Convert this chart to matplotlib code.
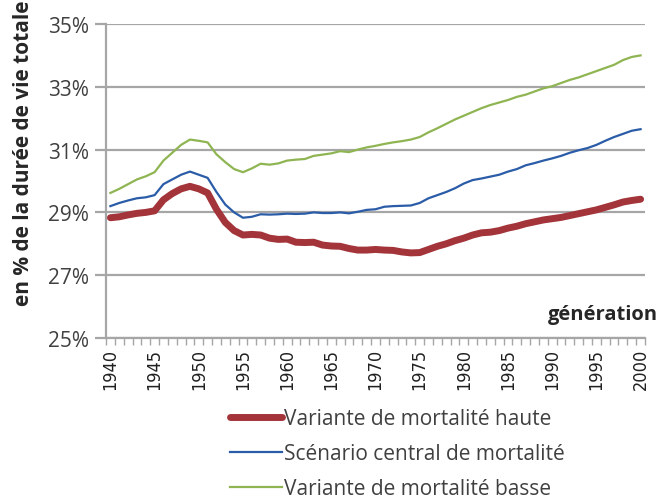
import numpy as np
import matplotlib.pyplot as plt

plt.rcParams['font.family'] = ['Open Sans', 'DejaVu Sans']

# generations 1940..2000, share of total lifetime spent in retirement (%)
years = list(range(1940, 2001))

haute = [28.83, 28.86, 28.92, 28.97, 29.00, 29.05, 29.40, 29.60, 29.75, 29.83,
         29.75, 29.62, 29.10, 28.68, 28.42, 28.28, 28.30, 28.28, 28.18, 28.14,
         28.15, 28.05, 28.04, 28.05, 27.96, 27.93, 27.92, 27.85, 27.80, 27.80,
         27.82, 27.80, 27.79, 27.74, 27.71, 27.72, 27.82, 27.92, 28.00, 28.10,
         28.18, 28.28, 28.35, 28.37, 28.42, 28.50, 28.56, 28.64, 28.70, 28.76,
         28.80, 28.84, 28.90, 28.96, 29.02, 29.08, 29.16, 29.24, 29.33, 29.38,
         29.42]

central = [29.20, 29.30, 29.38, 29.45, 29.48, 29.55, 29.90, 30.05, 30.20, 30.30,
           30.20, 30.10, 29.65, 29.25, 29.00, 28.83, 28.86, 28.94, 28.93, 28.94,
           28.96, 28.95, 28.96, 29.00, 28.98, 28.98, 29.00, 28.97, 29.02, 29.08,
           29.10, 29.18, 29.20, 29.21, 29.22, 29.30, 29.45, 29.55, 29.65, 29.77,
           29.92, 30.03, 30.08, 30.14, 30.20, 30.30, 30.38, 30.50, 30.57, 30.65,
           30.72, 30.80, 30.90, 30.98, 31.05, 31.15, 31.28, 31.40, 31.50, 31.60,
           31.65]

basse = [29.62, 29.75, 29.90, 30.05, 30.15, 30.28, 30.65, 30.90, 31.15, 31.32,
         31.28, 31.23, 30.85, 30.60, 30.38, 30.28, 30.40, 30.55, 30.52, 30.56,
         30.65, 30.68, 30.70, 30.80, 30.84, 30.88, 30.95, 30.92, 31.00, 31.07,
         31.12, 31.18, 31.23, 31.27, 31.32, 31.40, 31.55, 31.68, 31.82, 31.96,
         32.08, 32.20, 32.32, 32.42, 32.50, 32.58, 32.68, 32.75, 32.85, 32.95,
         33.02, 33.12, 33.22, 33.30, 33.40, 33.50, 33.60, 33.70, 33.85, 33.95,
         34.00]

labels = ["Variante de mortalité haute",
          "Scénario central de mortalité",
          "Variante de mortalité basse"]
y_ticks = [25, 27, 29, 31, 33, 35]

GRID = "#a6a6a6"
TXT = "#404040"

fig = plt.figure(figsize=(6.6, 5.02), dpi=100)
ax = fig.add_axes([106 / 660, 1 - 339 / 502, 539 / 660, 314 / 502])

x = np.arange(len(years))
ax.plot(x, haute, color="#a3343a", lw=5, solid_capstyle="round", label=labels[0], zorder=3)
ax.plot(x, central, color="#2b5ca8", lw=1.6, label=labels[1], zorder=3)
ax.plot(x, basse, color="#8fb552", lw=1.6, label=labels[2], zorder=3)

ax.set_xlim(-0.5, len(years) - 0.5)
ax.set_ylim(25, 35)
ax.set_yticks(y_ticks)
ax.set_yticklabels([f"{v}%" for v in y_ticks], fontsize=15, color=TXT)
ax.yaxis.grid(True, color=GRID, lw=1.6)
ax.set_axisbelow(True)

# category axis: small ticks between every generation, labels every 5 years
ax.set_xticks(np.arange(-0.5, len(years), 1.0), minor=True)
ax.set_xticks(x[::5])
ax.set_xticklabels([str(y) for y in years[::5]], rotation=90, fontsize=13,
                   color="#202020", family=["DejaVu Sans"], fontstretch="condensed")
ax.tick_params(axis="x", which="major", length=0, pad=7)
ax.tick_params(axis="x", which="minor", length=5, width=1, color=GRID)
ax.tick_params(axis="y", length=8, width=1.6, color=GRID, pad=4)

for s in ["top", "right"]:
    ax.spines[s].set_visible(False)
for s in ["left", "bottom"]:
    ax.spines[s].set_color(GRID)
    ax.spines[s].set_linewidth(1.6)

fig.text(24 / 660, 1 - 153 / 502, "en % de la durée de vie totale", rotation=90,
         ha="center", va="center", fontsize=15, fontweight="bold", color="#262626")
fig.text(658 / 660, 1 - 315 / 502, "génération", ha="right", va="center",
         fontsize=14.5, fontweight="bold", color="#262626")

fig.legend(loc="upper left", bbox_to_anchor=(230 / 660, 1 - 409 / 502), frameon=False,
           fontsize=15, handlelength=2.5, handletextpad=0.1, labelspacing=0.68,
           borderpad=0, borderaxespad=0, labelcolor=TXT)

fig.savefig("out.png", dpi=100)
